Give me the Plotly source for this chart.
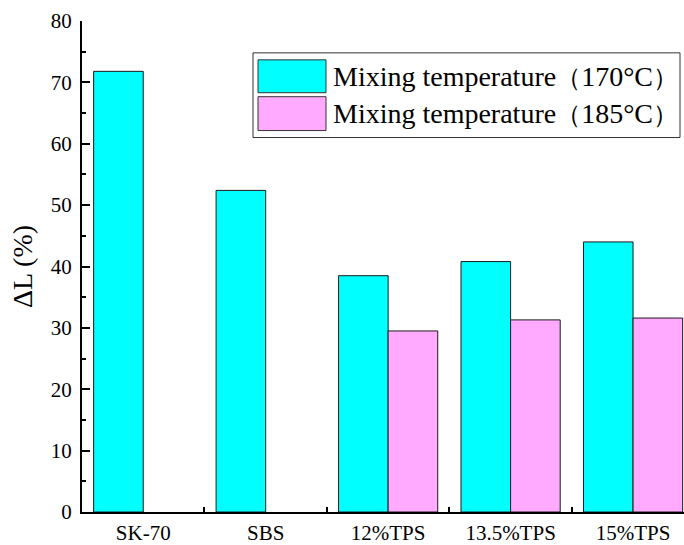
import plotly.graph_objects as go

categories = ["SK-70", "SBS", "12%TPS", "13.5%TPS", "15%TPS"]
temp170 = [71.8, 52.4, 38.5, 40.8, 44.0]
temp185 = [None, None, 29.5, 31.3, 31.6]
series_names = ["Mixing temperature（170°C）", "Mixing temperature（185°C）"]
series_colors = ["#00FFFF", "#FFAAFF"]
y_ticks = [0, 10, 20, 30, 40, 50, 60, 70, 80]

W, H = 684, 545
L, R, T, B = 82, 684, 21, 514
FONT = "Liberation Serif"

fig = go.Figure()
for name, vals, col in zip(series_names, [temp170, temp185], series_colors):
    fig.add_trace(go.Bar(x=categories, y=vals, name=name,
                         marker=dict(color=col, line=dict(color="#1a1a1a", width=1)),
                         showlegend=False))

def px(xp):
    return (xp - L) / (R - L)

def py(yp):
    return (B - yp) / (B - T)

def legend_label(name):
    # shrink the full-width parentheses a little so the text width matches
    return (name.replace("（", "<span style='font-size:25px'>（</span>")
                .replace("）", "<span style='font-size:25px'>）</span>"))

shapes = [dict(type="rect", xref="paper", yref="paper",
               x0=px(253), x1=px(680), y0=py(138), y1=py(53),
               line=dict(color="#333", width=1), fillcolor="white", layer="above")]
annotations = []
rows = [(60, 93), (97, 131)]
for (y0, y1), name, col in zip(rows, series_names, series_colors):
    shapes.append(dict(type="rect", xref="paper", yref="paper",
                       x0=px(258), x1=px(326), y0=py(y1), y1=py(y0),
                       line=dict(color="#333", width=1), fillcolor=col, layer="above"))
    annotations.append(dict(xref="paper", yref="paper", x=px(331), y=py((y0 + y1) / 2),
                            xanchor="left", yanchor="middle", showarrow=False,
                            text=legend_label(name),
                            font=dict(family=FONT, size=28, color="black")))

fig.update_layout(
    width=W, height=H,
    margin=dict(l=L, r=W - R, t=T, b=H - B, pad=0),
    paper_bgcolor="white", plot_bgcolor="white",
    barmode="group", bargap=0.19, bargroupgap=0,
    font=dict(family=FONT, size=21, color="black"),
    shapes=shapes, annotations=annotations,
    xaxis=dict(range=[-0.5, 4.416], showline=True, linecolor="black", linewidth=2,
               ticks="inside", tickson="boundaries", ticklen=5, tickwidth=1.5,
               tickcolor="black", showgrid=False, zeroline=False,
               tickfont=dict(family=FONT, size=21), ticklabelstandoff=1),
    yaxis=dict(range=[0, 80], tickvals=y_ticks, showline=True, linecolor="black",
               linewidth=2, ticks="inside", ticklen=8, tickwidth=1.5, tickcolor="black",
               minor=dict(dtick=5, ticks="inside", ticklen=4, tickwidth=1.5, tickcolor="black"),
               showgrid=False, zeroline=False, tickfont=dict(family=FONT, size=21),
               ticklabelstandoff=4,
               title=dict(text="ΔL (%)", font=dict(family=FONT, size=28), standoff=10)),
)
fig.write_html("out.html", config={"displayModeBar": False},
               post_script="document.body.style.margin='0';document.body.style.overflow='hidden';")
